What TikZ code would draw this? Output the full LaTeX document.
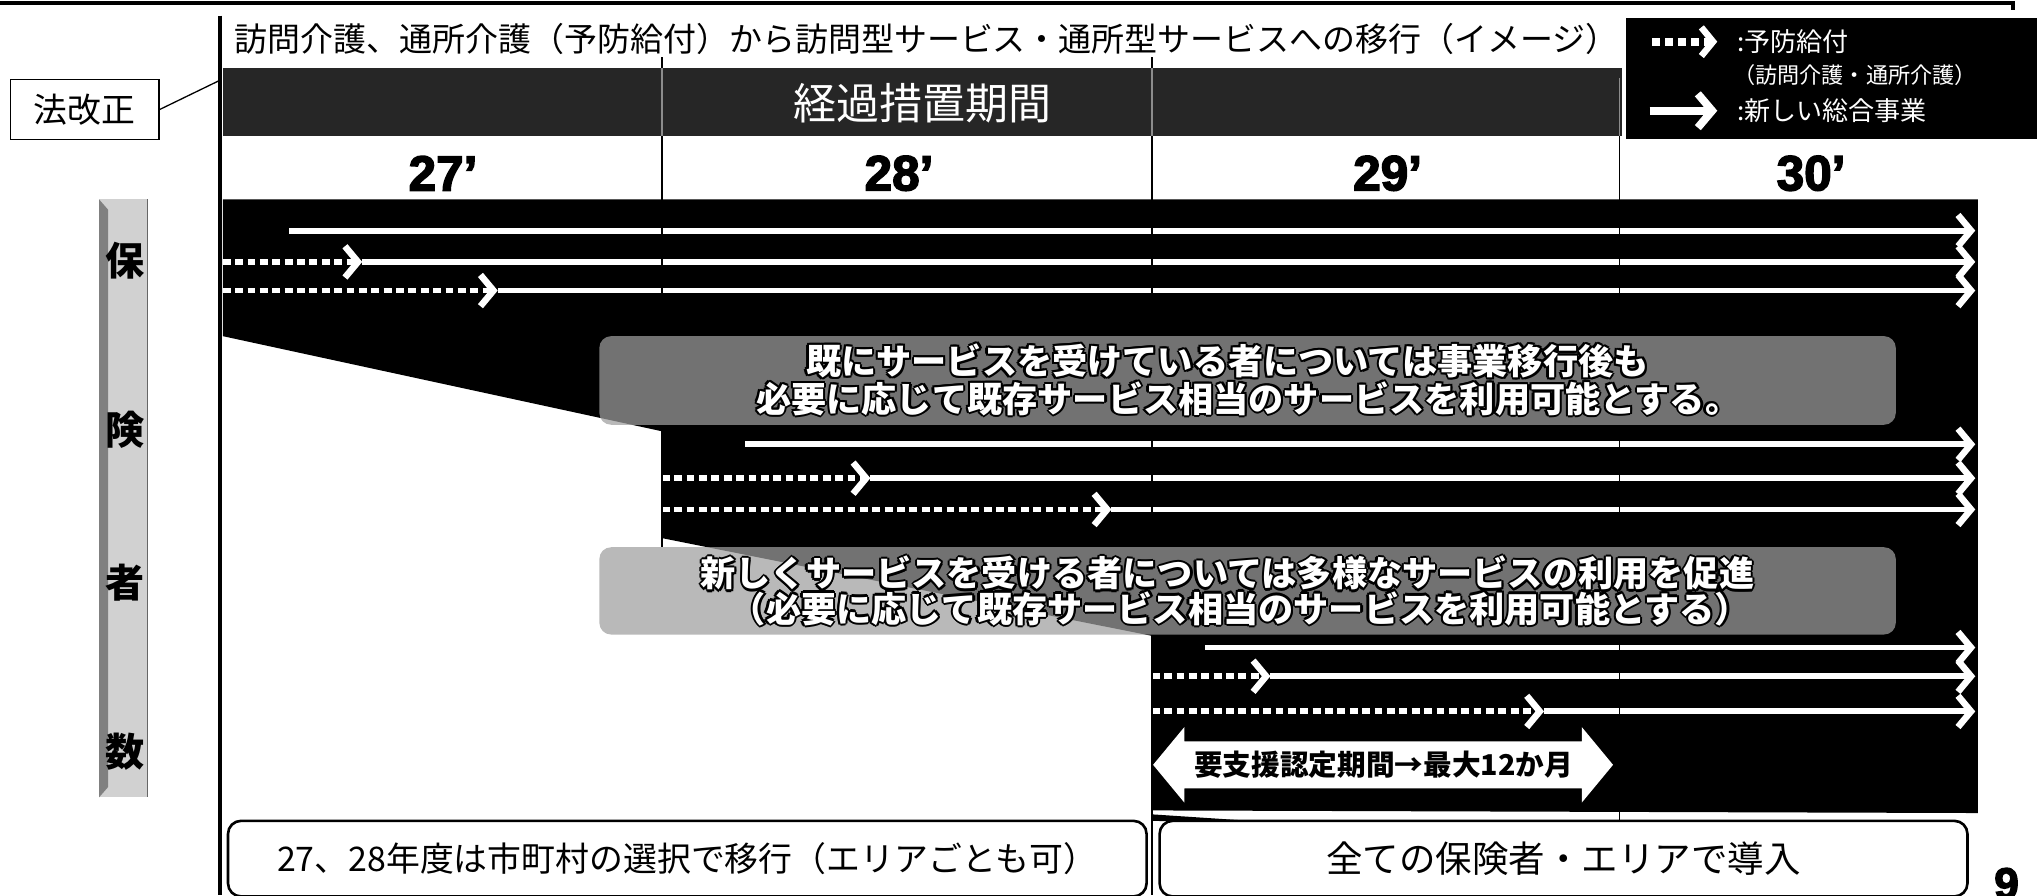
\documentclass[tikz,border=0pt]{standalone}
\usepackage{fontspec}
\setmainfont{Noto Sans CJK JP}
\newfontfamily\jp{Noto Sans CJK JP}
\newfontfamily\yearfont{Liberation Sans}[BoldFeatures={FakeBold=3}]
\usetikzlibrary{arrows.meta}
\newcommand\fsz[1]{\fontsize{#1}{#1}\selectfont}
\newcommand\outlined[5]{%
  \foreach \dx/\dy in {-1.7/0,1.7/0,0/-1.7,0/1.7,-1.2/-1.2,1.2/1.2,-1.2/1.2,1.2/-1.2}
    {\node[inner sep=0,text=black,font=\jp\bfseries\fsz{#4}] at (#2+\dx,#3+\dy) {#5};}
  \node[inner sep=0,text=white,font=\jp\bfseries\fsz{#4}] (#1) at (#2,#3) {#5};
}
\begin{document}
\begin{tikzpicture}[x=1pt,y=-1pt,
  wsolid/.style={white,line width=4.5,-{Straight Barb[length=10pt,width=24pt,line width=5pt]}},
  wdot/.style={white,line width=4.5,dash pattern=on 6pt off 3.5pt,-{Straight Barb[length=10pt,width=24pt,line width=5pt]}},
  sep/.style={black,line width=1.1},
  graybox/.style={rounded corners=9pt,fill=black!38,fill opacity=0.72},
  bottombox/.style={draw=black,line width=2,rounded corners=10pt,fill=white,inner sep=0},
]
\useasboundingbox (0,0) rectangle (1568,687);
\fill[white] (0,0) rectangle (1568,687);
\draw[line width=3] (0,2) -- (1545,2) -- (1545,8);
\draw[line width=3.2] (169,12) -- (169,687);

% title
\node[font=\jp\fsz{25.3},inner sep=0,anchor=west] (title) at (180,30) {訪問介護、通所介護（予防給付）から訪問型サービス・通所型サービスへの移行（イメージ）};

% band
\fill[black!85] (171,52) rectangle (1245,104);
\node[font=\jp\fsz{33},text=white,inner sep=0] (keika) at (708,79) {経過措置期間};

% legend
\fill[black] (1248,14) rectangle (1563,107);
\coordinate (lg1s) at (1268,32); \coordinate (lg1e) at (1318,32);
\draw[white,line width=6,dash pattern=on 6pt off 4pt,-{Straight Barb[length=9pt,width=22pt,line width=5pt]}] (lg1s) -- (lg1e);
\node[anchor=west,font=\jp\fsz{20},text=white,inner sep=0] (lg1t) at (1333,32) {:予防給付};
\node[anchor=west,font=\jp\fsz{17},text=white,inner sep=0] (lg1u) at (1330,58) {（訪問介護・通所介護）};
\coordinate (lg2s) at (1266,85); \coordinate (lg2e) at (1318,85);
\draw[white,line width=6,-{Straight Barb[length=11pt,width=26pt,line width=6pt]}] (lg2s) -- (lg2e);
\node[anchor=west,font=\jp\fsz{20},text=white,inner sep=0] (lg2t) at (1333,85) {:新しい総合事業};

% years
\node[font=\yearfont\bfseries\fsz{38},inner sep=0] (y27) at (340,133) {27’};
\node[font=\yearfont\bfseries\fsz{38},inner sep=0] (y28) at (690,133) {28’};
\node[font=\yearfont\bfseries\fsz{38},inner sep=0] (y29) at (1065,133) {29’};
\node[font=\yearfont\bfseries\fsz{38},inner sep=0] (y30) at (1390,133) {30’};

% black region
\fill[black] (171,153) -- (1518,153) -- (1518,624) -- (884,622) -- (884,488) -- (508,413) -- (508,331) -- (171,258) -- cycle;
\fill[black] (884,625) -- (990,632) -- (884,630) -- cycle;

% group 1
\coordinate (g1a) at (222,177); \coordinate (g1ae) at (1516,177);
\draw[wsolid] (g1a) -- (g1ae);
\coordinate (g1b) at (171,201); \coordinate (g1bj) at (278,201); \coordinate (g1be) at (1516,201);
\draw[wdot] (g1b) -- (g1bj); \draw[wsolid] (g1bj) -- (g1be);
\coordinate (g1c) at (171,223); \coordinate (g1cj) at (382,223); \coordinate (g1ce) at (1516,223);
\draw[wdot] (g1c) -- (g1cj); \draw[wsolid] (g1cj) -- (g1ce);
% group 2
\coordinate (g2a) at (572,341); \coordinate (g2ae) at (1516,341);
\draw[wsolid] (g2a) -- (g2ae);
\coordinate (g2b) at (508,367); \coordinate (g2bj) at (668,367); \coordinate (g2be) at (1516,367);
\draw[wdot] (g2b) -- (g2bj); \draw[wsolid] (g2bj) -- (g2be);
\coordinate (g2c) at (508,391); \coordinate (g2cj) at (853,391); \coordinate (g2ce) at (1516,391);
\draw[wdot] (g2c) -- (g2cj); \draw[wsolid] (g2cj) -- (g2ce);
% group 3
\coordinate (g3a) at (925,497); \coordinate (g3ae) at (1516,497);
\draw[wsolid] (g3a) -- (g3ae);
\coordinate (g3b) at (884,519); \coordinate (g3bj) at (975,519); \coordinate (g3be) at (1516,519);
\draw[wdot] (g3b) -- (g3bj); \draw[wsolid] (g3bj) -- (g3be);
\coordinate (g3c) at (884,546); \coordinate (g3cj) at (1185,546); \coordinate (g3ce) at (1516,546);
\draw[wdot] (g3c) -- (g3cj); \draw[wsolid] (g3cj) -- (g3ce);

% separators
\coordinate (s1t) at (508,44); \coordinate (s1b) at (508,420);
\coordinate (s2t) at (884,44); \coordinate (s2b) at (884,687);
\coordinate (s3t) at (1243,60); \coordinate (s3b) at (1243,632);
\draw[sep] (s1t) -- (s1b);
\draw[sep] (s2t) -- (s2b);
\draw[sep] (s3t) -- (s3b);
\draw[black!45,line width=1.1] (508,52) -- (508,104) (884,52) -- (884,104) (1243,60) -- (1243,104);

% gray boxes
\fill[graybox] (460,258) rectangle (1455,326);
\outlined{b1l1}{942}{277}{27}{既にサービスを受けている者については事業移行後も}
\outlined{b1l2}{958}{306}{27}{必要に応じて既存サービス相当のサービスを利用可能とする。}
\fill[graybox] (460,420) rectangle (1455,487);
\outlined{b2l1}{942}{440}{27}{新しくサービスを受ける者については多様なサービスの利用を促進}
\outlined{b2l2}{952}{467}{27}{（必要に応じて既存サービス相当のサービスを利用可能とする）}

% double arrow
\fill[white] (885,587) -- (909,558) -- (909,569) -- (1214,569) -- (1214,558) -- (1238,587) -- (1214,616) -- (1214,605) -- (909,605) -- (909,616) -- cycle;
\node[font=\jp\bfseries\fsz{22},inner sep=0] (period) at (1062,587) {要支援認定期間→最大12か月};

% bottom boxes
\node[bottombox,minimum width=705,minimum height=58,font=\jp\fsz{26}] (boxA) at (527.5,659) {27、28年度は市町村の選択で移行（エリアごとも可）};
\node[bottombox,minimum width=620,minimum height=58,font=\jp\fsz{28}] (boxB) at (1200,659) {全ての保険者・エリアで導入};

% law revision
\node[draw,line width=1.3,minimum width=114,minimum height=46,font=\jp\fsz{26},inner sep=0] (hou) at (65,84) {法改正};
\coordinate (houl) at (168,62);
\draw[line width=1] (hou.east) -- (houl);

% vertical label
\fill[black!18] (76,153) rectangle (113,612);
\fill[black!50] (76,153) -- (83,161) -- (83,604) -- (76,612) -- cycle;
\draw[black!60,line width=1] (113,153) -- (113,612);
\node[font=\jp\bfseries\fsz{30},inner sep=0] (v1) at (96,200) {保};
\node[font=\jp\bfseries\fsz{30},inner sep=0] (v2) at (96,330) {険};
\node[font=\jp\bfseries\fsz{30},inner sep=0] (v3) at (96,447) {者};
\node[font=\jp\bfseries\fsz{30},inner sep=0] (v4) at (96,577) {数};

% page number (cut by the lower edge, as in the reference)
\node[font=\yearfont\bfseries\fsz{34},inner sep=0,anchor=north] (pg) at (1540,666) {9};
\end{tikzpicture}
\end{document}
